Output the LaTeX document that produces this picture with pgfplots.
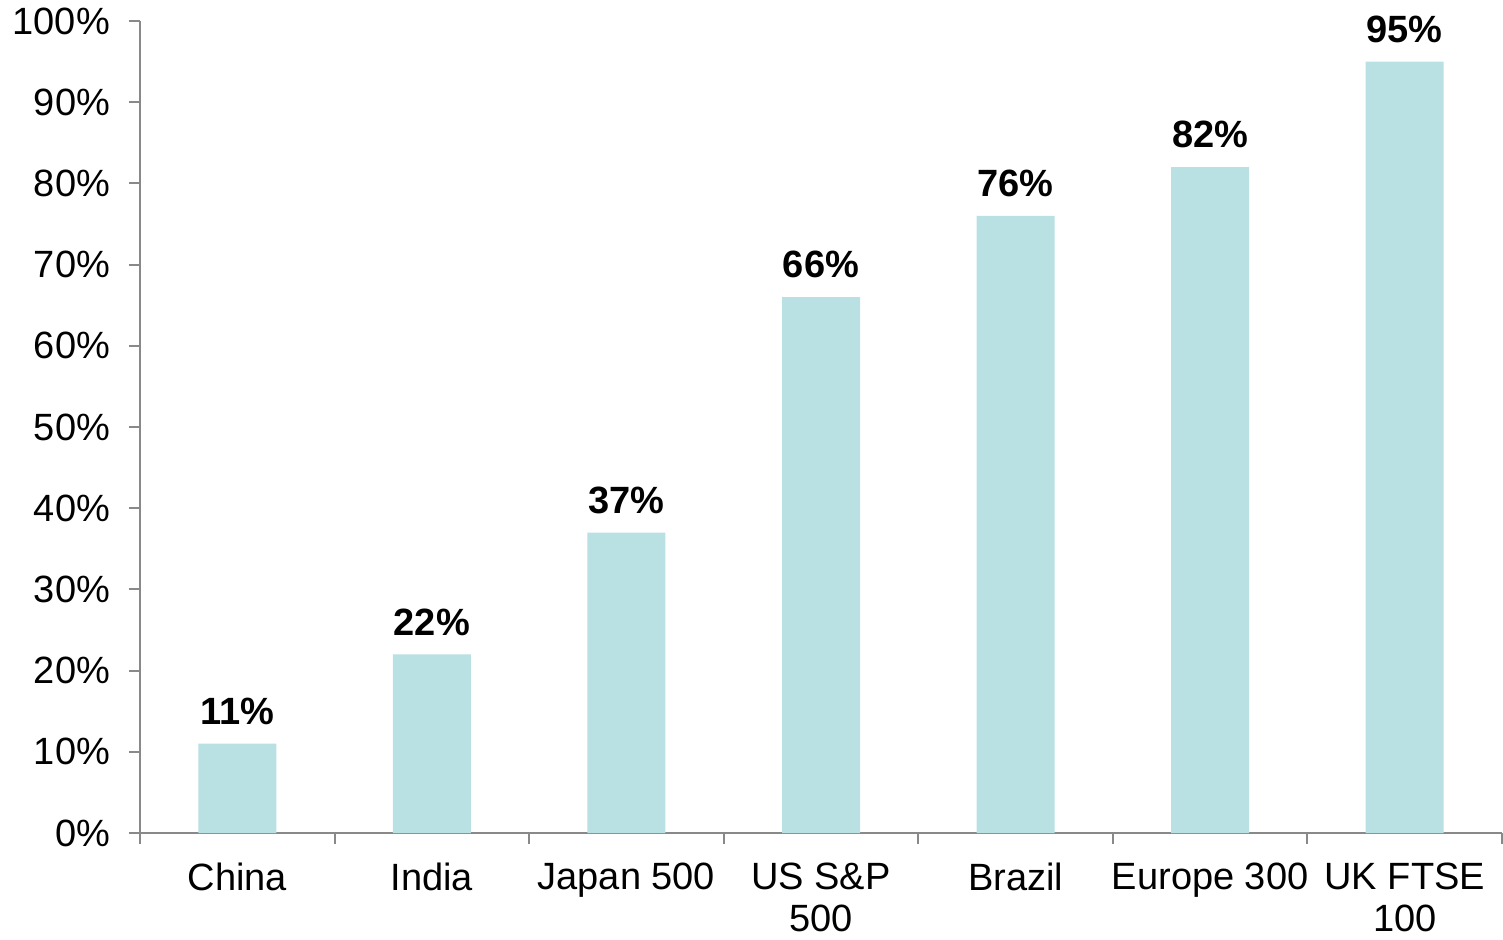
\documentclass[border=0pt]{standalone}
\usepackage{pgfplots}
\pgfplotsset{compat=1.18}
\usepackage{fontspec}
\setmainfont{Liberation Sans}
\usetikzlibrary{calc}
\definecolor{barcol}{HTML}{B9E0E3}
\definecolor{axcol}{HTML}{898989}
\begin{document}
\begin{tikzpicture}
\begin{axis}[
  scale only axis,
  width=681pt, height=406pt,
  xmin=-0.5, xmax=6.5,
  ymin=0, ymax=100,
  axis lines*=left,
  axis line style={axcol, line width=1pt},
  every tick/.style={axcol, line width=1pt},
  tick align=outside,
  xtick={0,...,6},
  major x tick style={draw=none},
  minor xtick={-0.5,0.5,...,6.5},
  minor tick length=5.5pt,
  major tick length=5.5pt,
  xticklabels={China,India,Japan 500,{US S\&P\\500},Brazil,Europe 300,{UK FTSE\\100}},
  xticklabel style={align=center, font=\fontsize{19}{21}\selectfont, yshift=-6pt},
  ytick={0,10,...,100},
  yticklabels={0\%,10\%,20\%,30\%,40\%,50\%,60\%,70\%,80\%,90\%,100\%},
  yticklabel style={font=\fontsize{19}{21}\selectfont, xshift=-6pt},
  /pgf/number format/assume math mode=true,
  ybar, bar width=39pt,
  enlarge x limits=false,
  nodes near coords={\textbf{\pgfmathprintnumber{\pgfplotspointmeta}\%}},
  nodes near coords style={font=\fontsize{19}{21}\selectfont, black, yshift=6pt},
  clip=false,
]
\addplot[fill=barcol, draw=none] coordinates {(0,11) (1,22) (2,37) (3,66) (4,76) (5,82) (6,95)};
\coordinate (bl) at (rel axis cs:0,0);
\coordinate (tr) at (rel axis cs:1,1);
\end{axis}
\pgfresetboundingbox
\path[use as bounding box] ($(bl)+(-70pt,-53pt)$) rectangle ($(tr)+(0.5pt,10.5pt)$);
\end{tikzpicture}
\end{document}
